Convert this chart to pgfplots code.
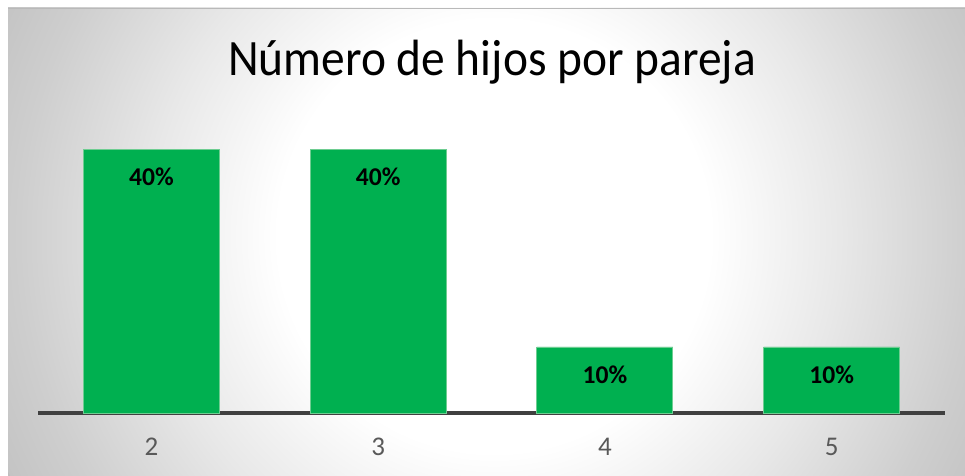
\documentclass[border=0pt]{standalone}
\usepackage{pgfplots}
\pgfplotsset{compat=1.18}
\usepackage{fontspec}
\setmainfont{Carlito}
\newfontfamily\titlefont[FakeStretch=0.93]{Carlito}
\definecolor{barGreen}{RGB}{0,176,80}
\definecolor{barEdge}{RGB}{110,205,145}
\definecolor{axisGray}{RGB}{64,64,64}
\definecolor{tickGray}{RGB}{89,89,89}
\definecolor{bgA}{RGB}{232,232,232}
\definecolor{bgB}{RGB}{206,206,206}
\definecolor{bgC}{RGB}{196,196,196}
\definecolor{bgEdge}{RGB}{190,190,190}
\pgfdeclareradialshading{chartbg}{\pgfpoint{0bp}{0bp}}{color(0bp)=(white); color(10bp)=(white); color(16bp)=(bgA); color(22bp)=(bgB); color(25bp)=(bgC); color(50bp)=(bgEdge)}
\begin{document}
\begin{tikzpicture}
\useasboundingbox (0,0) rectangle (482.5pt,238pt);
\fill[white] (0,0) rectangle (482.5pt,238pt);
\begin{scope}
  \clip (4pt,0) rectangle (482.5pt,234pt);
  \fill[bgEdge] (4pt,0) rectangle (482.5pt,234pt);
  \shade[shading=chartbg] (247pt,120pt) circle (270pt);
\end{scope}
\draw[gray!55, line width=0.8pt] (4pt,233.8pt) -- (482.5pt,233.8pt);
\node[font=\titlefont\fontsize{25.5}{30}\selectfont] at (246pt,207pt) {Número de hijos por pareja};
\begin{axis}[
  at={(19pt,31.5pt)}, anchor=south west,
  scale only axis, width=453.5pt, height=148.5pt,
  ymin=0, ymax=45, xmin=-0.5, xmax=3.5,
  ybar, bar width=68pt,
  axis y line=none, axis x line=bottom,
  x axis line style={-, draw=axisGray, line width=1.75pt},
  xtick=data, xticklabels={2,3,4,5},
  major tick length=0pt,
  xticklabel style={font=\fontsize{13.5}{16}\selectfont, text=tickGray, yshift=-9pt},
  /pgf/number format/assume math mode=true,
  nodes near coords={\pgfmathprintnumber{\pgfplotspointmeta}\%},
  nodes near coords style={anchor=center, yshift=-14pt, font=\bfseries\fontsize{12.8}{15}\selectfont, text=black},
  clip=false,
]
\addplot[fill=barGreen, draw=barEdge, line width=0.4pt] coordinates {(0,40) (1,40) (2,10) (3,10)};
\end{axis}
\end{tikzpicture}
\end{document}
